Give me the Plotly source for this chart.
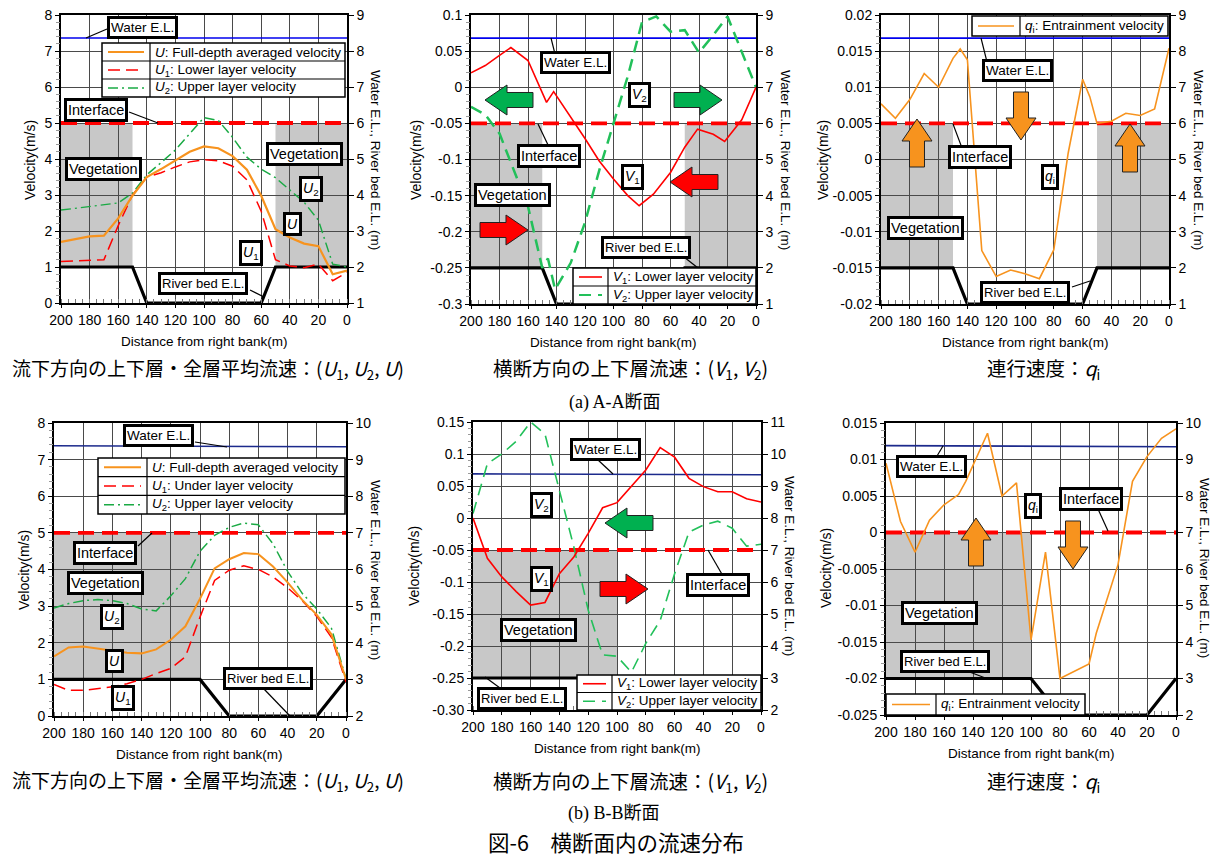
import plotly.graph_objects as go

W, H = 1214, 857
FONT = "Arial, Liberation Sans, sans-serif"
JP = "Noto Sans CJK JP, sans-serif"
SERIF = "Liberation Serif, Noto Sans CJK JP, serif"

# ------------------------------------------------------------------ data
x_ticks = [200, 180, 160, 140, 120, 100, 80, 60, 40, 20, 0]

# (a) A-A section ----------------------------------------------------
A_x = [200, 190, 180, 170, 160, 150, 140, 130, 120, 110, 100, 90, 80, 70, 60, 50, 40, 30, 20, 10, 0]
A_U = [1.70, 1.78, 1.85, 1.87, 2.35, 2.98, 3.50, 3.72, 3.97, 4.20, 4.35, 4.30, 4.08, 3.70, 2.98, 2.05, 1.82, 1.65, 1.58, 0.80, 0.90]
A_U1 = [1.15, 1.17, 1.18, 1.20, 2.15, 3.00, 3.50, 3.62, 3.78, 3.92, 3.98, 3.95, 3.80, 3.42, 2.55, 1.20, 1.03, 0.98, 1.08, 0.62, 0.85]
A_U2 = [2.58, 2.63, 2.68, 2.73, 2.78, 3.05, 3.56, 3.90, 4.25, 4.70, 5.15, 5.07, 4.60, 4.05, 3.72, 3.48, 3.15, 2.80, 2.30, 1.08, 1.00]

A_V1_x = [200, 190, 180, 172, 160, 147, 142, 130, 120, 110, 100, 90, 82, 72, 60, 50, 41, 30, 22, 10, 0]
A_V1 = [0.020, 0.030, 0.044, 0.055, 0.037, -0.021, -0.006, -0.041, -0.071, -0.102, -0.127, -0.150, -0.164, -0.148, -0.118, -0.083, -0.058, -0.065, -0.075, -0.045, 0.000]
A_V2_x = [200, 190, 180, 170, 160, 150, 146, 141, 130, 120, 110, 100, 90, 80, 70, 60, 50, 40, 30, 20, 10, 0]
A_V2 = [-0.027, -0.038, -0.064, -0.114, -0.165, -0.250, -0.237, -0.280, -0.243, -0.187, -0.115, -0.050, 0.015, 0.090, 0.098, 0.077, 0.079, 0.048, 0.072, 0.098, 0.050, 0.000]

A_q_x = [200, 190, 180, 170, 160, 150, 145, 140, 130, 120, 110, 100, 90, 80, 70, 60, 55, 50, 40, 30, 20, 10, 0]
A_q = [0.0077, 0.0057, 0.0083, 0.0119, 0.0100, 0.0140, 0.0153, 0.0138, -0.0126, -0.0162, -0.0153, -0.0158, -0.0165, -0.0125, 0.0009, 0.0111, 0.0087, 0.0050, 0.0053, 0.0064, 0.0061, 0.0070, 0.0154]

A_bed_x = [200, 150, 140, 60, 50, 0]
A_bed_z = [2, 2, 1, 1, 2, 2]
A_water_x = [200, 0]
A_water_z = [8.36, 8.36]
A_interface_z = 6
A_veg_x = [(200, 150), (50, 0)]
A_veg_bottom = 2

# (b) B-B section ----------------------------------------------------
B_x = [200, 190, 180, 170, 160, 150, 140, 130, 120, 110, 100, 90, 80, 70, 60, 50, 40, 30, 20, 10, 0]
B_U = [1.63, 1.87, 1.90, 1.84, 1.77, 1.73, 1.71, 1.82, 2.08, 2.45, 3.20, 4.03, 4.28, 4.45, 4.42, 4.08, 3.65, 3.17, 2.76, 2.23, 1.00]
B_U1 = [0.86, 0.70, 0.70, 0.74, 0.80, 0.88, 1.00, 1.16, 1.30, 1.62, 2.70, 3.70, 3.98, 4.10, 4.00, 3.80, 3.50, 3.15, 2.72, 2.15, 0.93]
B_U2 = [2.95, 3.07, 3.15, 3.18, 3.15, 3.07, 2.92, 2.87, 3.28, 3.75, 4.50, 4.93, 5.15, 5.27, 5.22, 4.70, 3.95, 3.35, 2.92, 2.40, 1.02]

B_V1 = [0.000, -0.063, -0.092, -0.115, -0.136, -0.132, -0.087, -0.061, -0.024, 0.016, 0.024, 0.049, 0.075, 0.110, 0.095, 0.062, 0.049, 0.041, 0.041, 0.030, 0.025]
B_V2 = [0.007, 0.085, 0.100, 0.120, 0.150, 0.131, 0.043, -0.045, -0.144, -0.214, -0.216, -0.241, -0.196, -0.160, -0.087, -0.022, -0.011, -0.005, -0.016, -0.044, -0.041]

B_q_x = [200, 190, 180, 170, 160, 150, 145, 130, 120, 110, 100, 90, 80, 70, 60, 55, 40, 30, 20, 10, 0]
B_q = [0.0095, 0.0015, -0.0027, 0.0017, 0.0038, 0.0052, 0.0070, 0.0136, 0.0050, 0.0068, -0.0147, -0.0027, -0.0200, -0.0190, -0.0180, -0.0138, -0.0044, 0.0070, 0.0104, 0.0129, 0.0142]

B_bed_x = [200, 100, 80, 20, 0]
B_bed_z = [3, 3, 2, 2, 3]
B_water_x = [200, 80, 0]
B_water_z = [9.38, 9.35, 9.35]
B_interface_z = 7
B_veg_x = [(200, 100)]
B_veg_bottom = 3

# ------------------------------------------------------------------ styles
ORANGE = "#f7931e"
RED = "#ff0000"
GREEN_DD = "#1aaa44"
GREEN_D = "#22c05a"
ARROW_GREEN = "#00b050"
BLUE_A = "#0000ee"
BLUE_B = "#1c2a8c"
GRAY = "#c8c8c8"
GRID = "#4a4a4a"
LBL = 14.5


def fx(x):
    return x / W


def fy(y):
    return 1 - y / H


def vtext(vals):
    return [("%g" % v) for v in vals]


panels = [
    dict(box=(61, 15, 347, 303), vr=[0, 8], vt=[0, 1, 2, 3, 4, 5, 6, 7, 8], vtt=None, vminor=0.2,
         er=[1, 9], et=list(range(1, 10)), bed=(A_bed_x, A_bed_z), water=(A_water_x, A_water_z), wc=BLUE_A,
         iz=A_interface_z, veg=A_veg_x, vb=A_veg_bottom,
         series=[(A_x, A_U2, GREEN_DD, "10px,4px,2px,4px", 1.5), (A_x, A_U1, RED, "12px,6px", 1.5),
                 (A_x, A_U, ORANGE, "solid", 2.2)]),
    dict(box=(471, 15, 756, 304), vr=[-0.3, 0.1], vt=[-0.3, -0.25, -0.2, -0.15, -0.1, -0.05, 0, 0.05, 0.1], vtt=None,
         vminor=0.01, er=[1, 9], et=list(range(1, 10)), bed=(A_bed_x, A_bed_z), water=(A_water_x, A_water_z), wc=BLUE_A,
         iz=A_interface_z, veg=A_veg_x, vb=A_veg_bottom,
         series=[(A_V2_x, A_V2, GREEN_D, "12px,7px", 2.5), (A_V1_x, A_V1, RED, "solid", 1.6)]),
    dict(box=(881, 15, 1169, 304), vr=[-0.02, 0.02],
         vt=[-0.02, -0.015, -0.01, -0.005, 0, 0.005, 0.01, 0.015, 0.02], vtt=None, vminor=0.001,
         er=[1, 9], et=list(range(1, 10)), bed=(A_bed_x, A_bed_z), water=(A_water_x, A_water_z), wc=BLUE_A,
         iz=A_interface_z, veg=A_veg_x, vb=A_veg_bottom,
         series=[(A_q_x, A_q, ORANGE, "solid", 1.6)]),
    dict(box=(54, 423, 346, 716), vr=[0, 8], vt=[0, 1, 2, 3, 4, 5, 6, 7, 8], vtt=None, vminor=0.2,
         er=[2, 10], et=list(range(2, 11)), bed=(B_bed_x, B_bed_z), water=(B_water_x, B_water_z), wc=BLUE_B,
         iz=B_interface_z, veg=B_veg_x, vb=B_veg_bottom,
         series=[(B_x, B_U2, GREEN_DD, "10px,4px,2px,4px", 1.5), (B_x, B_U1, RED, "12px,6px", 1.5),
                 (B_x, B_U, ORANGE, "solid", 2.0)]),
    dict(box=(473, 422, 761, 710), vr=[-0.3, 0.15],
         vt=[-0.3, -0.25, -0.2, -0.15, -0.1, -0.05, 0, 0.05, 0.1, 0.15],
         vtt=["-0.30", "-0.25", "-0.2", "-0.15", "-0.1", "-0.05", "0", "0.05", "0.1", "0.15"], vminor=0.01,
         er=[2, 11], et=list(range(2, 12)), bed=(B_bed_x, B_bed_z), water=(B_water_x, B_water_z), wc=BLUE_B,
         iz=B_interface_z, veg=B_veg_x, vb=B_veg_bottom,
         series=[(B_x, B_V2, GREEN_D, "12px,7px", 1.6), (B_x, B_V1, RED, "solid", 1.6)]),
    dict(box=(886, 423, 1176, 715), vr=[-0.025, 0.015],
         vt=[-0.025, -0.02, -0.015, -0.01, -0.005, 0, 0.005, 0.01, 0.015], vtt=None, vminor=0.001,
         er=[2, 10], et=list(range(2, 11)), bed=(B_bed_x, B_bed_z), water=(B_water_x, B_water_z), wc=BLUE_B,
         iz=B_interface_z, veg=B_veg_x, vb=B_veg_bottom,
         series=[(B_q_x, B_q, ORANGE, "solid", 1.6)]),
]

fig = go.Figure()
shapes = []
annos = []
layout = {}


def text_at(text, x, y, size, family=FONT, xanchor="center", angle=0):
    annos.append(dict(text=text, x=fx(x), y=fy(y), xref="paper", yref="paper", xanchor=xanchor,
                      yanchor="middle", showarrow=False, textangle=angle,
                      font=dict(family=family, size=size, color="black")))


for i, p in enumerate(panels, start=1):
    l, t, r, b = p["box"]
    xn = "x" if i == 1 else "x%d" % i
    en = "y" if i == 1 else "y%d" % i          # elevation axis (right)
    vn = "y%d" % (i + 6)                        # velocity axis (left)
    xk = "xaxis" if i == 1 else "xaxis%d" % i
    ek = "yaxis" if i == 1 else "yaxis%d" % i
    vk = "yaxis%d" % (i + 6)
    tf = dict(family=FONT, size=14, color="black")

    layout[xk] = dict(domain=[fx(l), fx(r)], anchor=en, range=[200, 0], tickmode="array", tickvals=x_ticks,
                      showgrid=True, gridcolor=GRID, gridwidth=1, zeroline=False, automargin=False,
                      showline=True, linecolor="black", linewidth=1.5, mirror=True,
                      ticks="outside", ticklen=3, tickcolor="black", tickfont=tf,
                      minor=dict(tickmode="linear", tick0=0, dtick=5, ticks="inside", ticklen=4,
                                 tickcolor="#777", showgrid=False))
    layout[ek] = dict(domain=[fy(b), fy(t)], anchor=xn, side="right", range=p["er"], tickmode="array",
                      tickvals=p["et"], showgrid=True, gridcolor=GRID, gridwidth=1, zeroline=False,
                      automargin=False, showline=True, linecolor="black", linewidth=1.5, mirror=True,
                      ticks="outside", ticklen=5, tickcolor="black", tickfont=tf)
    vtt = p["vtt"] if p["vtt"] else vtext(p["vt"])
    layout[vk] = dict(overlaying=en, anchor=xn, side="left", range=p["vr"], tickmode="array",
                      tickvals=p["vt"], ticktext=vtt, showgrid=False, zeroline=False, showline=False,
                      automargin=False, ticks="outside", ticklen=5, tickcolor="black", tickfont=tf,
                      minor=dict(tickmode="linear", tick0=p["vr"][0], dtick=p["vminor"], ticks="outside",
                                 ticklen=4, tickcolor="#999", showgrid=False))

    # vegetation zones
    for (va, vb_) in p["veg"]:
        shapes.append(dict(type="rect", xref=xn, yref=en, x0=va, x1=vb_, y0=p["vb"], y1=p["iz"],
                           fillcolor=GRAY, line=dict(width=0), layer="below"))

    # interface
    fig.add_trace(go.Scatter(x=[200, 0], y=[p["iz"], p["iz"]], xaxis=xn, yaxis=en, mode="lines",
                             line=dict(color=RED, width=3.8, dash="16px,8px"), hoverinfo="skip", showlegend=False))
    # water elevation
    fig.add_trace(go.Scatter(x=p["water"][0], y=p["water"][1], xaxis=xn, yaxis=en, mode="lines",
                             line=dict(color=p["wc"], width=1.6), hoverinfo="skip", showlegend=False))
    # river bed
    fig.add_trace(go.Scatter(x=p["bed"][0], y=p["bed"][1], xaxis=xn, yaxis=en, mode="lines",
                             line=dict(color="black", width=3.2), hoverinfo="skip", showlegend=False,
                             cliponaxis=False))
    # velocity series
    for (sx, sy, c, d, w) in p["series"]:
        fig.add_trace(go.Scatter(x=sx, y=sy, xaxis=xn, yaxis=vn, mode="lines",
                                 line=dict(color=c, width=w, dash=d), showlegend=False))

    text_at("Distance from right bank(m)", (l + r) / 2, b + 38, 13.5)

for (lx, rx, yy) in [(30, 376, 160), (416, 786, 160), (823, 1199, 160),
                     (24, 376, 570), (414, 790, 566), (826, 1205, 568)]:
    text_at("Velocity(m/s)", lx, yy, 14, angle=-90)
    text_at("Water E.L., River bed E.L. (m)", rx, yy, 13.5, angle=90)


def label(text, cx, cy, size=LBL):
    annos.append(dict(text=text, x=fx(cx), y=fy(cy), xref="paper", yref="paper", showarrow=False,
                      xanchor="center", yanchor="middle",
                      bgcolor="white", bordercolor="black", borderwidth=3, borderpad=1,
                      font=dict(family=FONT, size=size, color="black")))


def leader(x0, y0, x1, y1):
    shapes.append(dict(type="line", xref="paper", yref="paper", x0=fx(x0), y0=fy(y0), x1=fx(x1), y1=fy(y1),
                       line=dict(color="black", width=1.2), layer="above"))


def block_arrow(tipx, tipy, direction, color, length=48, head_len=22, head_half=15, body_half=7.5):
    local = [(0, 0), (head_len, head_half), (head_len, body_half), (length, body_half),
             (length, -body_half), (head_len, -body_half), (head_len, -head_half)]
    ux, uy = {"left": (1, 0), "right": (-1, 0), "up": (0, 1), "down": (0, -1)}[direction]
    vx, vy = -uy, ux
    pts = [(tipx + a * ux + q * vx, tipy + a * uy + q * vy) for a, q in local]
    path = "M " + " L ".join("%.5f,%.5f" % (fx(X), fy(Y)) for X, Y in pts) + " Z"
    shapes.append(dict(type="path", path=path, xref="paper", yref="paper", fillcolor=color,
                       line=dict(color="#222", width=1), layer="above"))


def legend_table(x0, y0, x1, y1, xdiv, rows):
    n = len(rows)
    rh = (y1 - y0) / n
    shapes.append(dict(type="rect", xref="paper", yref="paper", x0=fx(x0), x1=fx(x1), y0=fy(y1), y1=fy(y0),
                       fillcolor="white", line=dict(color="black", width=1.5), layer="above"))
    shapes.append(dict(type="line", xref="paper", yref="paper", x0=fx(xdiv), x1=fx(xdiv), y0=fy(y1), y1=fy(y0),
                       line=dict(color="black", width=1.2), layer="above"))
    for k in range(1, n):
        yy = y0 + k * rh
        shapes.append(dict(type="line", xref="paper", yref="paper", x0=fx(x0), x1=fx(x1), y0=fy(yy), y1=fy(yy),
                           line=dict(color="black", width=1.2), layer="above"))
    for k, (txt, c, d, w) in enumerate(rows):
        yc = y0 + (k + 0.5) * rh
        shapes.append(dict(type="line", xref="paper", yref="paper", x0=fx(x0 + 6), x1=fx(xdiv - 6),
                           y0=fy(yc), y1=fy(yc), line=dict(color=c, width=w, dash=d), layer="above"))
        text_at(txt, xdiv + 3, yc, 13.5, xanchor="left")


U = "<i>U</i>"
V = "<i>V</i>"
Q = "<i>q</i><sub>i</sub>"
WEL, RBE = "Water E.L.", "River bed E.L."
WS, RS = 13.5, 13

# ---- panel 1 (A-A, U)
label(WEL, 142, 27, WS); leader(107, 29, 86, 38)
legend_table(102, 43, 345, 97, 150, [(U + ": Full-depth averaged velocity", ORANGE, "solid", 2),
                                     (U + "<sub>1</sub>: Lower layer velocity", RED, "12px,6px", 1.5),
                                     (U + "<sub>2</sub>: Upper layer velocity", GREEN_DD, "10px,4px,2px,4px", 1.5)])
label("Interface", 96, 110); leader(129, 112, 158, 123)
label("Vegetation", 103, 169)
label("Vegetation", 304, 154)
label(U + "<sub>2</sub>", 311, 189, 14)
label(U, 292, 224, 14)
label(U + "<sub>1</sub>", 251, 253, 14)
label(RBE, 203, 283, RS); leader(250, 290, 264, 297)

# ---- panel 2 (A-A, V)
label(WEL, 575, 63, WS); leader(555, 54, 551, 38)
label("Interface", 549, 156); leader(549, 147, 538, 124)
label("Vegetation", 512, 195)
label(V + "<sub>2</sub>", 639, 95, 14)
label(V + "<sub>1</sub>", 632, 177, 14)
label(RBE, 646, 247, RS); leader(684, 257, 698, 268)
legend_table(573, 268, 756, 304, 608, [(V + "<sub>1</sub>: Lower layer velocity", RED, "solid", 1.6),
                                       (V + "<sub>2</sub>: Upper layer velocity", GREEN_D, "12px,7px", 2.2)])
block_arrow(485, 100, "left", ARROW_GREEN)
block_arrow(722, 100, "right", ARROW_GREEN)
block_arrow(528, 230, "right", RED)
block_arrow(670, 182, "left", RED)

# ---- panel 3 (A-A, q)
legend_table(972, 16, 1168, 36, 1020, [(Q + ": Entrainment velocity", ORANGE, "solid", 1.6)])
label(WEL, 1017, 71, WS); leader(987, 62, 981, 38)
label("Interface", 980, 157); leader(962, 148, 953, 124)
label("Vegetation", 926, 228)
label(Q, 1050, 177, 14)
label(RBE, 1025, 292, RS); leader(1072, 287, 1090, 281)
block_arrow(917, 119, "up", ORANGE)
block_arrow(1021, 140, "down", ORANGE)
block_arrow(1130, 124, "up", ORANGE)

# ---- panel 4 (B-B, U)
label(WEL, 158, 435, WS); leader(195, 442, 227, 447)
legend_table(98, 458, 345, 514, 147, [(U + ": Full-depth averaged velocity", ORANGE, "solid", 2),
                                      (U + "<sub>1</sub>: Under layer velocity", RED, "12px,6px", 1.5),
                                      (U + "<sub>2</sub>: Upper layer velocity", GREEN_DD, "10px,4px,2px,4px", 1.5)])
label("Interface", 105, 553); leader(138, 546, 152, 533)
label("Vegetation", 105, 583)
label(U + "<sub>2</sub>", 112, 617, 14)
label(U, 114, 661, 14)
label(U + "<sub>1</sub>", 123, 698, 14)
label(RBE, 268, 678, RS); leader(263, 688, 290, 716)

# ---- panel 5 (B-B, V)
label(WEL, 605, 449, WS); leader(597, 459, 613, 474)
label(V + "<sub>2</sub>", 541, 505, 14)
label(V + "<sub>1</sub>", 541, 579, 14)
label("Interface", 718, 585); leader(723, 576, 708, 550)
label("Vegetation", 538, 630)
legend_table(577, 675, 761, 710, 612, [(V + "<sub>1</sub>: Lower layer velocity", RED, "solid", 1.6),
                                       (V + "<sub>2</sub>: Upper layer velocity", GREEN_D, "12px,7px", 1.6)])
label(RBE, 522, 698, RS); leader(500, 688, 485, 677)
block_arrow(605, 523, "left", ARROW_GREEN)
block_arrow(648, 589, "right", RED)

# ---- panel 6 (B-B, q)
label(WEL, 931, 466, WS); leader(937, 456, 943, 446)
label("Interface", 1091, 499); leader(1098, 509, 1108, 531)
label(Q, 1033, 506, 14)
label("Vegetation", 939, 613)
label(RBE, 945, 661, RS); leader(967, 671, 988, 679)
legend_table(886, 694, 1085, 715, 936, [(Q + ": Entrainment velocity", ORANGE, "solid", 1.6)])
block_arrow(976, 518, "up", ORANGE)
block_arrow(1073, 569, "down", ORANGE)

# ---- captions
cap_U = "流下方向の上下層・全層平均流速：(" + U + "<sub>1</sub>, " + U + "<sub>2</sub>, " + U + ")"
cap_V = "横断方向の上下層流速：(" + V + "<sub>1</sub>, " + V + "<sub>2</sub>)"
cap_Q = "連行速度：" + Q
for yy in (369, 781):
    text_at(cap_U, 10, yy, 19, family=JP, xanchor="left")
    text_at(cap_V, 630, yy, 19.5, family=JP)
    text_at(cap_Q, 1043, yy, 19.5, family=JP)
text_at("(a) A-A断面", 614, 402, 18, family=SERIF)
text_at("(b) B-B断面", 614, 813, 18, family=SERIF)
text_at("図-6　横断面内の流速分布", 616, 841, 21.5, family=JP)

fig.update_layout(template="none", width=W, height=H,
                  margin=dict(l=0, r=0, t=0, b=0, pad=0, autoexpand=False),
                  paper_bgcolor="white", plot_bgcolor="white", showlegend=False,
                  shapes=shapes, annotations=annos, **layout)

fig.write_html("out.html", config={"displayModeBar": False},
               post_script="document.body.style.margin='0px';")
